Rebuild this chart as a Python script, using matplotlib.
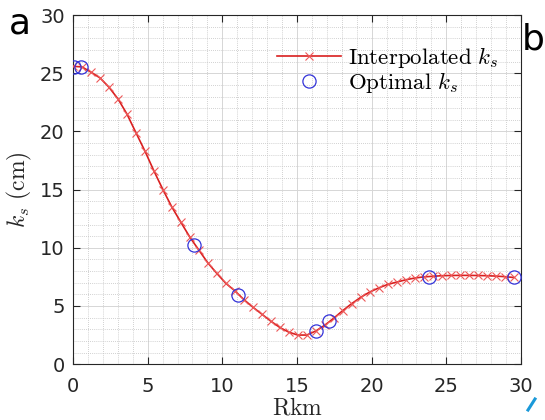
import matplotlib
matplotlib.use("Agg")
import matplotlib.pyplot as plt
from matplotlib.ticker import MultipleLocator
from matplotlib.lines import Line2D

# Interpolated curve (cross markers)
interp_rkm = [0.00, 0.60, 1.20, 1.81, 2.41, 3.01, 3.61, 4.21, 4.82, 5.42,
              6.02, 6.62, 7.22, 7.83, 8.43, 9.03, 9.63, 10.23, 10.84, 11.44,
              12.04, 12.64, 13.24, 13.85, 14.45, 15.05, 15.65, 16.26, 16.86, 17.46,
              18.06, 18.66, 19.27, 19.87, 20.47, 21.07, 21.67, 22.28, 22.88, 23.48,
              24.08, 24.68, 25.29, 25.89, 26.49, 27.09, 27.69, 28.30, 28.90, 29.50]
interp_ks = [25.6, 25.55, 25.1, 24.6, 23.8, 22.8, 21.5, 19.9, 18.3, 16.6,
             15.0, 13.5, 12.2, 10.9, 9.8, 8.7, 7.8, 6.95, 6.3, 5.55,
             4.9, 4.3, 3.7, 3.15, 2.75, 2.5, 2.5, 2.85, 3.35, 3.95,
             4.6, 5.2, 5.75, 6.2, 6.55, 6.85, 7.05, 7.25, 7.4, 7.5,
             7.55, 7.6, 7.62, 7.63, 7.63, 7.62, 7.6, 7.57, 7.52, 7.45]

# Optimal values (circles)
opt_rkm = [0.05, 0.55, 8.07, 11.03, 16.24, 17.15, 23.85, 29.5]
opt_ks = [25.55, 25.55, 10.25, 5.95, 2.85, 3.75, 7.45, 7.45]

xticks = [0, 5, 10, 15, 20, 25, 30]
yticks = [0, 5, 10, 15, 20, 25, 30]

plt.rcParams['mathtext.fontset'] = 'cm'

fig = plt.figure(figsize=(5.45, 4.2), dpi=100)
ax = fig.add_axes([0.134, 0.133, 0.822, 0.831])

dark = (0.15, 0.15, 0.15)
ax.plot(interp_rkm, interp_ks, color=(0.85, 0.12, 0.12), lw=1.2, marker='x',
        ms=6, mew=0.8, mec=(0.93, 0.35, 0.35),
        label=r'$\mathrm{Interpolated}\ k_s$', zorder=3)
ax.plot(opt_rkm, opt_ks, ls='none', marker='o', ms=9.5, mfc='none',
        mec=(0.2, 0.2, 0.85), mew=0.9, label=r'$\mathrm{Optimal}\ k_s$', zorder=4)

ax.set_xlim(0, 30)
ax.set_ylim(0, 30)
ax.set_xticks(xticks)
ax.set_yticks(yticks)
ax.xaxis.set_minor_locator(MultipleLocator(1))
ax.yaxis.set_minor_locator(MultipleLocator(1))
ax.grid(True, which='major', color=(0.84, 0.84, 0.84), lw=0.7)
ax.grid(True, which='minor', color=(0.76, 0.76, 0.76), lw=0.6, ls=(0, (1, 1.5)))
ax.set_axisbelow(True)
ax.tick_params(which='major', direction='in', length=5, width=0.8, colors=dark,
               top=True, right=True, labelsize=14)
ax.tick_params(axis='x', which='major', pad=9)
ax.tick_params(axis='y', which='major', pad=6)
ax.tick_params(which='minor', length=0, top=True, right=True)
for s in ax.spines.values():
    s.set_color(dark)
    s.set_linewidth(0.8)

ax.set_xlabel(r'$\mathrm{Rkm}$', fontsize=17, labelpad=0, color=dark)
ax.set_ylabel(r'$k_s\ \mathrm{(cm)}$', fontsize=17, labelpad=4, color=dark)

leg = ax.legend(loc='upper right', bbox_to_anchor=(0.979, 0.954), frameon=False,
                fontsize=16.5, handlelength=2.8, handletextpad=0.3,
                labelspacing=0.0, borderaxespad=0.2)

fig.text(0.016, 1 - 33 / 420, 'a', fontsize=26, va='baseline', ha='left',
         color='black')
fig.text(0.958, 1 - 50 / 420, 'b', fontsize=26, va='baseline', ha='left',
         color='black')
fig.add_artist(Line2D([528 / 545, 535 / 545], [1 - 410 / 420, 1 - 399 / 420],
                      color=(0.1, 0.6, 0.85), lw=2.2))

fig.savefig('out.png', dpi=100)
